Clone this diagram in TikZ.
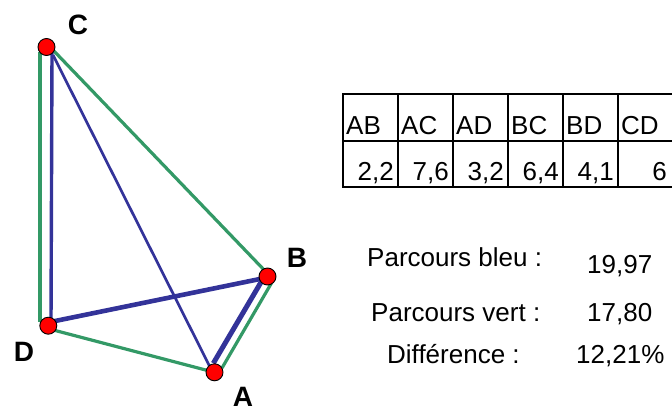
\documentclass[tikz,border=0pt]{standalone}
\usepackage{fontspec}
\setmainfont{Liberation Sans}
\usetikzlibrary{calc}
\definecolor{vert}{RGB}{51,153,102}
\definecolor{bleu}{RGB}{51,51,153}
\begin{document}
\begin{tikzpicture}[x=1pt,y=-1pt,
  gr/.style={draw=vert,line width=3.2pt},
  bl/.style={draw=bleu,line width=#1},
  bl/.default=3pt,
  pt/.style={circle,fill=red,draw=black,line width=0.9pt,minimum size=17pt,inner sep=0pt},
  lbl/.style={font=\fontsize{28}{32}\selectfont\bfseries,inner sep=0pt},
  cellh/.style={font=\fontsize{26}{30}\selectfont,anchor=base west,inner sep=0pt},
  celln/.style={font=\fontsize{26}{30}\selectfont,anchor=base east,inner sep=0pt},
  txt/.style={font=\fontsize{26}{30}\selectfont,anchor=base west,inner sep=0pt},
  grid/.style={draw=black,line width=2pt}]
\useasboundingbox (0,0) rectangle (672,407);
\clip (0,0) rectangle (672,407);
% points
\coordinate (C) at (46.5,47);
\coordinate (D) at (48.3,325.7);
\coordinate (A) at (214.5,372.3);
\coordinate (B) at (267.5,276.5);
% green path C-D-A-B-C
\draw[gr] ($(C)+(-6.5,5)$) -- ($(D)+(-8.3,-3.7)$);
\draw[gr] ($(D)+(5,4.3)$) -- ($(A)+(-6.2,-1.6)$);
\draw[gr] ($(A)+(7.5,-4.3)$) -- ($(B)+(4,6.5)$);
\draw[gr] ($(B)+(0.5,-2.5)$) -- ($(C)+(6.5,3)$);
% blue path C-D-B-A-C
\draw[bl=3.4pt] ($(C)+(5.5,5)$) -- ($(D)+(2.7,-2.7)$);
\draw[bl=4.6pt] ($(D)+(3.4,-4)$) -- ($(B)+(-4.2,1.8)$);
\draw[bl=5pt] ($(B)+(-4.2,1.8)$) -- ($(A)+(-1.2,-9)$);
\draw[bl=2.7pt] ($(A)+(-4.5,-5.3)$) -- ($(C)+(6.5,8)$);
% point markers
\node[pt] (pC) at (C) {};
\node[pt] (pD) at (D) {};
\node[pt] (pA) at (A) {};
\node[pt] (pB) at (B) {};
% labels
\node[lbl] (lC) at (78,25) {C};
\node[lbl] (lB) at (297,258) {B};
\node[lbl] (lD) at (24,352) {D};
\node[lbl] (lA) at (243,397) {A};
% table
\draw[grid] (343,94) rectangle (673,187);
\draw[grid] (343,140.5) -- (673,140.5);
\foreach \x in {398,453,508,563,618} \draw[grid] (\x,94) -- (\x,187);
\node[cellh] (h1) at (346,134) {AB};
\node[cellh] (h2) at (401,134) {AC};
\node[cellh] (h3) at (456,134) {AD};
\node[cellh] (h4) at (511,134) {BC};
\node[cellh] (h5) at (566,134) {BD};
\node[cellh] (h6) at (621,134) {CD};
\node[celln] (n1) at (394,180) {2,2};
\node[celln] (n2) at (449,180) {7,6};
\node[celln] (n3) at (504,180) {3,2};
\node[celln] (n4) at (559,180) {6,4};
\node[celln] (n5) at (614,180) {4,1};
\node[celln] (n6) at (667,180) {6};
% results
\node[txt] (t1) at (367,266) {Parcours bleu :};
\node[txt] (v1) at (587,273) {19,97};
\node[txt] (t2) at (371,321) {Parcours vert :};
\node[txt] (v2) at (587,321) {17,80};
\node[txt] (t3) at (387,363) {Différence :};
\node[txt] (v3) at (576,363) {12,21\%};
\end{tikzpicture}
\end{document}
